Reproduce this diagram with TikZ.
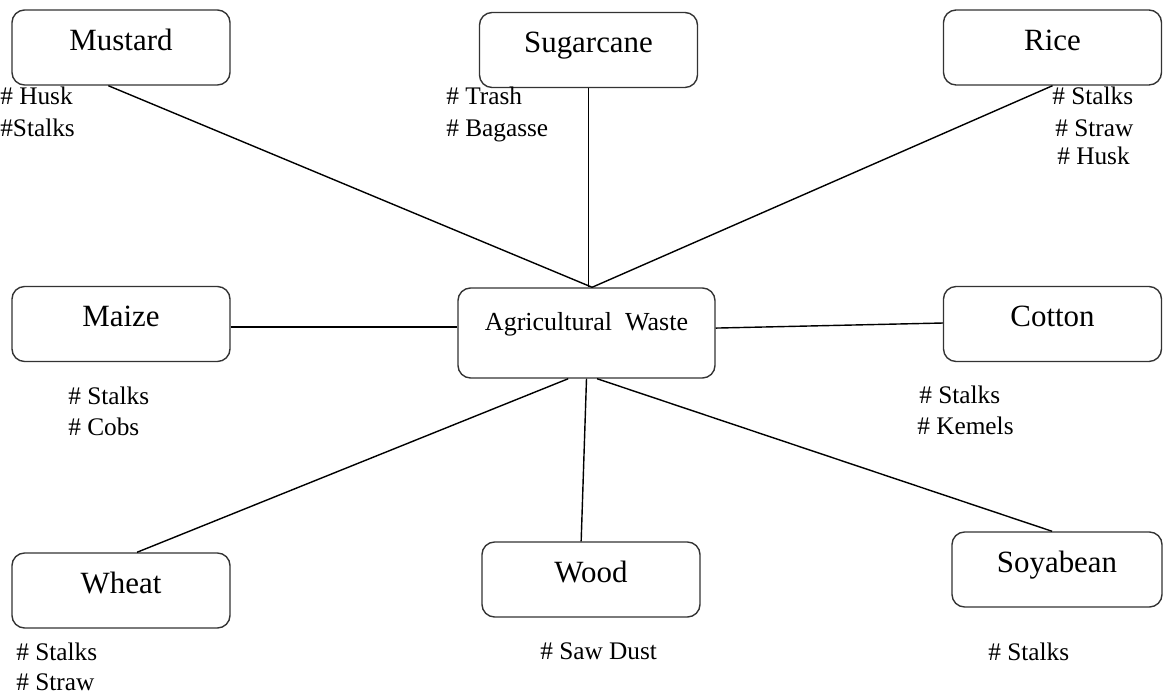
\documentclass[tikz,border=0pt]{standalone}
\usepackage{fontspec}
\setmainfont{Liberation Serif}
\tikzset{
  cropbox/.style={draw=black!80, line width=1pt, rounded corners=9pt,
    minimum width=5.45cm, minimum height=1.875cm,
    font=\fontsize{22}{26}\selectfont, text height=12pt, text depth=8pt},
  wastebox/.style={cropbox, minimum width=6.425cm, minimum height=2.25cm,
    font=\fontsize{18.5}{22}\selectfont, text height=10pt, text depth=13pt},
  lbl/.style={font=\fontsize{18}{22}\selectfont, inner sep=0pt, anchor=base west},
  link/.style={line width=1pt, black}
}
\begin{document}
\begin{tikzpicture}[x=0.025cm, y=-0.025cm]
        \useasboundingbox (0,0) rectangle (1164,694);

        % centre
        \node[wastebox] (waste) at (586.5,333) {Agricultural\ \ Waste};

        % crops
        \node[cropbox] (mustard) at (121,47.5) {Mustard};
        \node[cropbox] (sugarcane) at (588.5,50) {Sugarcane};
        \node[cropbox] (rice) at (1052.5,47.5) {Rice};
        \node[cropbox] (maize) at (121,324) {Maize};
        \node[cropbox] (cotton) at (1052.5,324) {Cotton};
        \node[cropbox] (wheat) at (121,590.5) {Wheat};
        \node[cropbox] (wood) at (591,579.5) {Wood};
        \node[cropbox, minimum width=5.25cm] (soyabean) at (1057,569.5) {Soyabean};

        % connectors
        \draw[link] ([xshift=-9pt]mustard.south) -- ([xshift=4pt]waste.north);
        \draw[link] (sugarcane.south) -- (sugarcane.south |- waste.north);
        \draw[link] (rice.south) -- ([xshift=4pt]waste.north);
        \draw[link] ([yshift=-2pt]maize.east) -- ([yshift=-2pt]maize.east -| waste.west);
        \draw[link] ([yshift=3.5pt]waste.east) -- ([yshift=0.7pt]cotton.west);
        \draw[link] ([xshift=11.4pt]wheat.north) -- ([xshift=-13pt]waste.south);
        \draw[link] ([xshift=-7pt]wood.north) -- (waste.south);
        \draw[link] ([xshift=-3.5pt]soyabean.north) -- ([xshift=7.5pt]waste.south);

        % residues
        \foreach \x/\y/\txt/\nm in {
            0/105/\# Husk/mhusk, 0/137/\#Stalks/mstalks,
            446/105/\# Trash/strash, 446/137/\# Bagasse/sbagasse,
            1052/105/\# Stalks/rstalks, 1055/137/\# Straw/rstraw, 1057/165/\# Husk/rhusk,
            68/405/\# Stalks/zstalks, 68/436/\# Cobs/zcobs,
            919/404/\# Stalks/cstalks, 917/435/\# Kemels/ckemels,
            16/660/\# Stalks/wstalks, 16/690/\# Straw/wstraw,
            540/659/\# Saw Dust/dsawdust,
            988/660/\# Stalks/ystalks}
            \node[lbl] (\nm) at (\x,\y) {\txt};
\end{tikzpicture}
\end{document}
